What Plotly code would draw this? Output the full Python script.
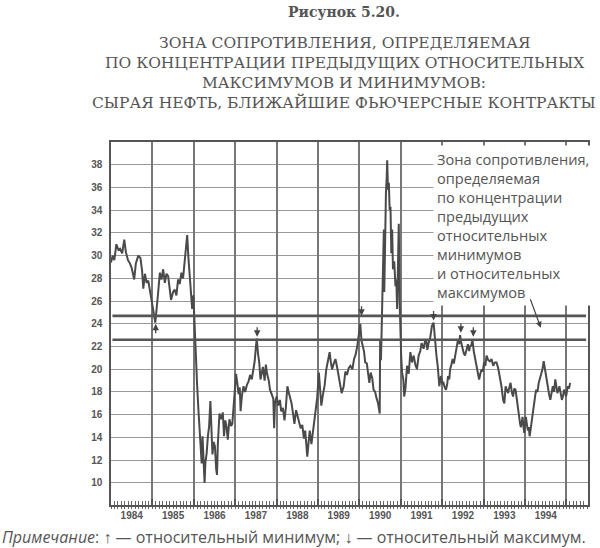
import plotly.graph_objects as go

# ---------------- data ----------------
t = [1984.00,1984.04,1984.08,1984.13,1984.18,1984.22,1984.27,1984.32,1984.36,1984.41,
     1984.46,1984.50,1984.56,1984.60,1984.66,1984.71,1984.75,1984.78,1984.82,1984.86,
     1984.90,1984.94,1984.98,1985.02,1985.07,1985.10,1985.14,1985.18,1985.22,1985.26,
     1985.30,1985.34,1985.38,1985.42,1985.45,1985.50,1985.54,1985.58,1985.62,1985.66,
     1985.70,1985.74,1985.78,1985.81,1985.84,1985.87,1985.90,1985.93,1985.96,1985.99,
     1986.02,1986.05,1986.08,1986.11,1986.14,1986.17,1986.19,1986.21,1986.24,1986.26,
     1986.28,1986.31,1986.34,1986.37,1986.40,1986.42,1986.45,1986.48,1986.51,1986.54,
     1986.56,1986.58,1986.62,1986.66,1986.70,1986.73,1986.76,1986.79,1986.82,1986.86,
     1986.90,1986.93,1986.96,1986.98,1987.02,1987.05,1987.08,1987.11,1987.13,1987.16,
     1987.20,1987.24,1987.28,1987.32,1987.36,1987.40,1987.44,1987.47,1987.50,1987.52,
     1987.55,1987.58,1987.61,1987.64,1987.67,1987.71,1987.74,1987.77,1987.81,1987.84,
     1987.88,1987.92,1987.94,1987.96,1988.00,1988.04,1988.08,1988.11,1988.15,1988.19,
     1988.22,1988.26,1988.29,1988.32,1988.36,1988.40,1988.43,1988.47,1988.51,1988.55,
     1988.58,1988.62,1988.66,1988.69,1988.72,1988.74,1988.77,1988.80,1988.84,1988.87,
     1988.90,1988.94,1988.98,1989.02,1989.05,1989.08,1989.12,1989.16,1989.20,1989.24,
     1989.28,1989.31,1989.34,1989.38,1989.42,1989.46,1989.50,1989.54,1989.57,1989.62,
     1989.66,1989.70,1989.74,1989.78,1989.83,1989.87,1989.91,1989.95,1989.98,1990.02,
     1990.05,1990.08,1990.11,1990.14,1990.18,1990.21,1990.24,1990.27,1990.31,1990.34,
     1990.38,1990.41,1990.45,1990.49,1990.50,1990.52,1990.55,1990.57,1990.59,1990.60,
     1990.62,1990.64,1990.66,1990.67,1990.69,1990.71,1990.73,1990.75,1990.77,1990.79,
     1990.81,1990.84,1990.87,1990.89,1990.91,1990.93,1990.95,1990.97,1990.99,1991.01,
     1991.03,1991.06,1991.08,1991.11,1991.15,1991.19,1991.23,1991.27,1991.31,1991.35,
     1991.39,1991.43,1991.47,1991.50,1991.55,1991.58,1991.61,1991.64,1991.67,1991.71,
     1991.75,1991.79,1991.81,1991.83,1991.86,1991.89,1991.91,1991.93,1991.95,1991.97,
     1992.00,1992.03,1992.06,1992.09,1992.12,1992.14,1992.17,1992.19,1992.22,1992.25,
     1992.28,1992.31,1992.34,1992.38,1992.41,1992.43,1992.46,1992.49,1992.52,1992.55,
     1992.58,1992.62,1992.65,1992.67,1992.70,1992.73,1992.76,1992.78,1992.81,1992.83,
     1992.86,1992.89,1992.92,1992.95,1992.98,1993.01,1993.04,1993.07,1993.11,1993.15,
     1993.19,1993.23,1993.27,1993.31,1993.35,1993.39,1993.43,1993.47,1993.50,1993.53,
     1993.56,1993.59,1993.62,1993.65,1993.68,1993.71,1993.74,1993.77,1993.80,1993.82,
     1993.84,1993.86,1993.88,1993.90,1993.92,1993.94,1993.96,1993.98,1994.00,1994.02,
     1994.05,1994.07,1994.09,1994.11,1994.13,1994.15,1994.18,1994.22,1994.25,1994.27,
     1994.30,1994.33,1994.36,1994.39,1994.42,1994.45,1994.48,1994.51,1994.53,1994.55,
     1994.58,1994.61,1994.64,1994.67,1994.70,1994.73,1994.76,1994.78,1994.81,1994.83,
     1994.86,1994.89,1994.92,1994.94,1994.97,1994.99,1995.01,1995.03,1995.06,1995.09]

price = [29.4,30.0,29.6,31.0,30.5,30.6,30.2,31.4,30.3,29.6,
         29.3,28.9,27.9,29.3,30.0,29.8,28.7,27.1,28.4,27.6,
         27.8,26.8,26.2,25.2,24.1,25.6,26.8,28.5,27.9,28.8,
         27.6,28.4,28.2,27.0,26.1,26.8,27.0,26.5,27.9,27.5,
         28.5,28.0,29.7,30.4,31.8,29.8,28.2,26.8,25.3,26.5,
         23.5,21.7,18.6,16.5,15.0,13.2,11.7,14.1,11.5,10.0,
         11.8,12.6,14.1,15.0,17.2,14.7,12.5,13.6,13.2,11.2,
         10.7,13.4,16.1,15.6,16.2,14.1,15.5,15.0,13.8,15.6,
         15.0,15.2,16.5,17.8,19.6,18.8,17.8,18.4,16.3,17.6,
         18.5,18.0,18.6,18.9,19.5,19.1,20.0,20.7,22.0,22.7,
         21.4,20.6,19.1,19.8,20.2,19.0,20.4,19.6,19.0,18.2,
         17.8,17.4,14.8,17.0,17.6,16.8,17.3,16.3,16.6,15.5,
         16.5,18.5,18.0,17.6,17.0,16.0,15.2,16.4,15.8,15.3,
         14.8,15.1,13.9,14.6,13.2,12.3,13.5,14.6,13.4,14.4,
         15.4,16.3,17.5,19.7,18.0,16.8,17.8,18.6,20.0,20.9,
         21.5,20.6,20.0,20.5,20.9,20.2,19.3,18.6,17.9,18.5,
         19.8,19.5,20.1,20.3,20.0,20.9,21.3,22.1,23.0,24.0,
         22.5,22.0,21.6,20.6,20.5,19.6,18.8,19.7,19.2,18.2,
         18.0,17.5,17.0,16.1,22.6,20.8,25.5,28.3,32.3,26.8,
         33.0,35.5,37.0,38.4,35.8,36.4,34.0,34.3,30.2,32.3,
         28.8,29.5,27.3,27.9,25.3,28.0,32.8,26.0,22.6,21.0,
         19.7,19.1,17.6,18.3,20.3,19.6,21.5,20.6,21.2,20.4,
         20.0,21.2,21.6,22.3,21.8,22.4,22.6,21.7,22.3,22.8,
         23.8,24.1,23.3,22.1,21.2,20.3,19.2,18.5,19.0,19.4,
         18.7,18.8,18.4,18.2,18.7,19.4,19.1,20.0,20.4,20.9,
         20.5,21.2,21.6,22.6,22.2,23.0,22.3,21.8,21.4,21.2,
         21.7,22.2,21.6,22.0,22.1,22.6,21.6,21.2,20.8,20.3,
         19.8,19.1,19.6,20.0,19.8,20.6,20.3,21.2,20.8,20.7,
         20.9,20.3,20.6,20.6,20.1,19.4,18.5,17.3,17.0,18.5,
         18.2,17.9,18.4,18.8,18.0,17.6,18.3,18.2,17.4,16.7,
         16.0,15.5,15.2,14.9,15.4,15.8,15.0,14.4,15.2,15.8,
         15.0,14.6,14.9,14.1,14.6,15.2,16.2,17.0,17.8,18.2,
         18.0,18.8,19.2,19.7,20.0,20.7,20.0,19.4,18.7,18.2,
         17.8,17.3,17.9,18.5,18.0,19.1,18.4,17.9,18.2,18.5,
         17.9,17.3,17.7,18.2,17.9,17.6,18.0,18.5,18.3,18.8]

years = [1984, 1985, 1986, 1987, 1988, 1989, 1990, 1991, 1992, 1993, 1994]
y_ticks = [10, 12, 14, 16, 18, 20, 22, 24, 26, 28, 30, 32, 34, 36, 38]
zone_levels = [24.7, 22.6]

# relative maxima (down arrows) and relative minimum (up arrow)
max_x = [1987.53, 1990.05, 1991.79, 1992.45, 1992.75]
max_y = [22.85, 24.7, 24.3, 23.2, 22.85]
min_x = [1985.08]
min_y = [24.0]

title_top = "Рисунок 5.20."
title_lines = ["ЗОНА СОПРОТИВЛЕНИЯ, ОПРЕДЕЛЯЕМАЯ",
               "ПО КОНЦЕНТРАЦИИ ПРЕДЫДУЩИХ ОТНОСИТЕЛЬНЫХ",
               "МАКСИМУМОВ И МИНИМУМОВ:",
               "СЫРАЯ НЕФТЬ, БЛИЖАЙШИЕ ФЬЮЧЕРСНЫЕ КОНТРАКТЫ"]
note_text = ("Зона сопротивления,<br>определяемая<br>по концентрации<br>предыдущих<br>"
             "относительных<br>минимумов<br>и относительных<br>максимумов")
footnote = "<i>Примечание</i>: ↑ — относительный минимум; ↓ — относительный максимум."

# ---------------- figure ----------------
W, H = 600, 548
ML, MR, MT, MB = 111, 10, 142, 43
X_RANGE = [1984.0, 1995.52]
Y_RANGE = [8.05, 40.0]
INK = "#4a4a4a"
GRID = "#9a9a9a"
TXT = "#555555"

fig = go.Figure()
fig.add_trace(go.Scatter(x=t, y=price, mode="lines",
                         line=dict(color=INK, width=2.0), hoverinfo="skip",
                         showlegend=False))
# overlay axis carrier (no visible data)
fig.add_trace(go.Scatter(x=[X_RANGE[0]], y=[Y_RANGE[0]], xaxis="x2", mode="markers",
                         marker=dict(opacity=0), showlegend=False, hoverinfo="skip"))

for lvl in zone_levels:
    fig.add_shape(type="line", xref="paper", x0=0.003, x1=0.996, yref="y",
                  y0=lvl, y1=lvl, line=dict(color="#555555", width=2.6))

year_mids = [y + 0.5 for y in years]
year_bounds = [y for y in range(1984, 1996)]

fig.update_layout(
    width=W, height=H,
    margin=dict(l=ML, r=MR, t=MT, b=MB),
    paper_bgcolor="white", plot_bgcolor="white",
    showlegend=False,
    xaxis=dict(range=X_RANGE, tickmode="array", tickvals=year_mids,
               ticktext=[str(y) for y in years], ticks="", showgrid=False,
               zeroline=False, showline=True, linecolor="#555", linewidth=1.5,
               mirror=True,
               tickfont=dict(family="Liberation Sans", size=10, color=TXT,
                             weight="bold"),
               minor=dict(tickmode="linear", tick0=1984, dtick=1/12,
                          ticks="outside", ticklen=2, tickcolor="#666",
                          tickwidth=1, showgrid=False)),
    xaxis2=dict(range=X_RANGE, overlaying="x", side="bottom", tickmode="array",
                tickvals=year_bounds, ticks="inside", ticklen=6, tickcolor="#555",
                tickwidth=1.5, showticklabels=False, showgrid=True,
                gridcolor="#777777", gridwidth=1.5, zeroline=False,
                minor=dict(tickmode="linear", tick0=1984, dtick=1/12,
                           ticks="inside", ticklen=4, tickcolor="#666",
                           tickwidth=1, showgrid=False)),
    yaxis=dict(range=Y_RANGE, tickmode="array", tickvals=y_ticks,
               ticks="", showgrid=True, gridcolor=GRID, gridwidth=1.2,
               zeroline=False, showline=True, linecolor="#555", linewidth=1.5,
               mirror=True, ticklabelstandoff=5,
               tickfont=dict(family="Liberation Sans", size=10, color=TXT,
                             weight="bold")),
)

# arrows marking relative maxima / minimum
for xv, yv in zip(max_x, max_y):
    fig.add_annotation(x=xv, y=yv, xref="x", yref="y", text="", showarrow=True,
                       ax=0, ay=-11, arrowhead=2, arrowsize=1, arrowwidth=1.3,
                       arrowcolor="#444")
for xv, yv in zip(min_x, min_y):
    fig.add_annotation(x=xv, y=yv, xref="x", yref="y", text="", showarrow=True,
                       ax=0, ay=11, arrowhead=2, arrowsize=1, arrowwidth=1.3,
                       arrowcolor="#444")

# explanatory text box
fig.add_annotation(x=1991.78, y=39.75, xref="x", yref="y", text=note_text,
                   showarrow=False, xanchor="left", yanchor="top", align="left",
                   bgcolor="white", borderpad=3,
                   font=dict(family="Open Sans", size=14.6, color="#555"))
fig.add_annotation(x=1994.38, y=23.65, xref="x", yref="y", text="", showarrow=True,
                   ax=-11, ay=-30, arrowhead=2, arrowsize=1, arrowwidth=1.2,
                   arrowcolor="#444")

# titles
def py2paper(py):
    return (H - MB - py) / (H - MT - MB)

cx = (345 - ML) / (W - ML - MR)
fig.add_annotation(x=cx, y=py2paper(12), xref="paper", yref="paper",
                   text="<b>" + title_top + "</b>", showarrow=False,
                   xanchor="center", yanchor="middle",
                   font=dict(family="DejaVu Serif", size=14, color="#555"))
for i, line in enumerate(title_lines):
    fig.add_annotation(x=cx, y=py2paper(43 + 20 * i), xref="paper", yref="paper",
                       text=line, showarrow=False, xanchor="center",
                       yanchor="middle",
                       font=dict(family="DejaVu Serif", size=15.5, color="#555"))

fig.add_annotation(x=-ML / (W - ML - MR), y=py2paper(537), xref="paper",
                   yref="paper", text=footnote, showarrow=False, xanchor="left",
                   yanchor="middle",
                   font=dict(family="Open Sans", size=16, color="#555"))

fig.write_html("out.html", config={"displayModeBar": False},
               post_script="document.body.style.margin='0';"
                           "document.body.style.overflow='hidden';")
